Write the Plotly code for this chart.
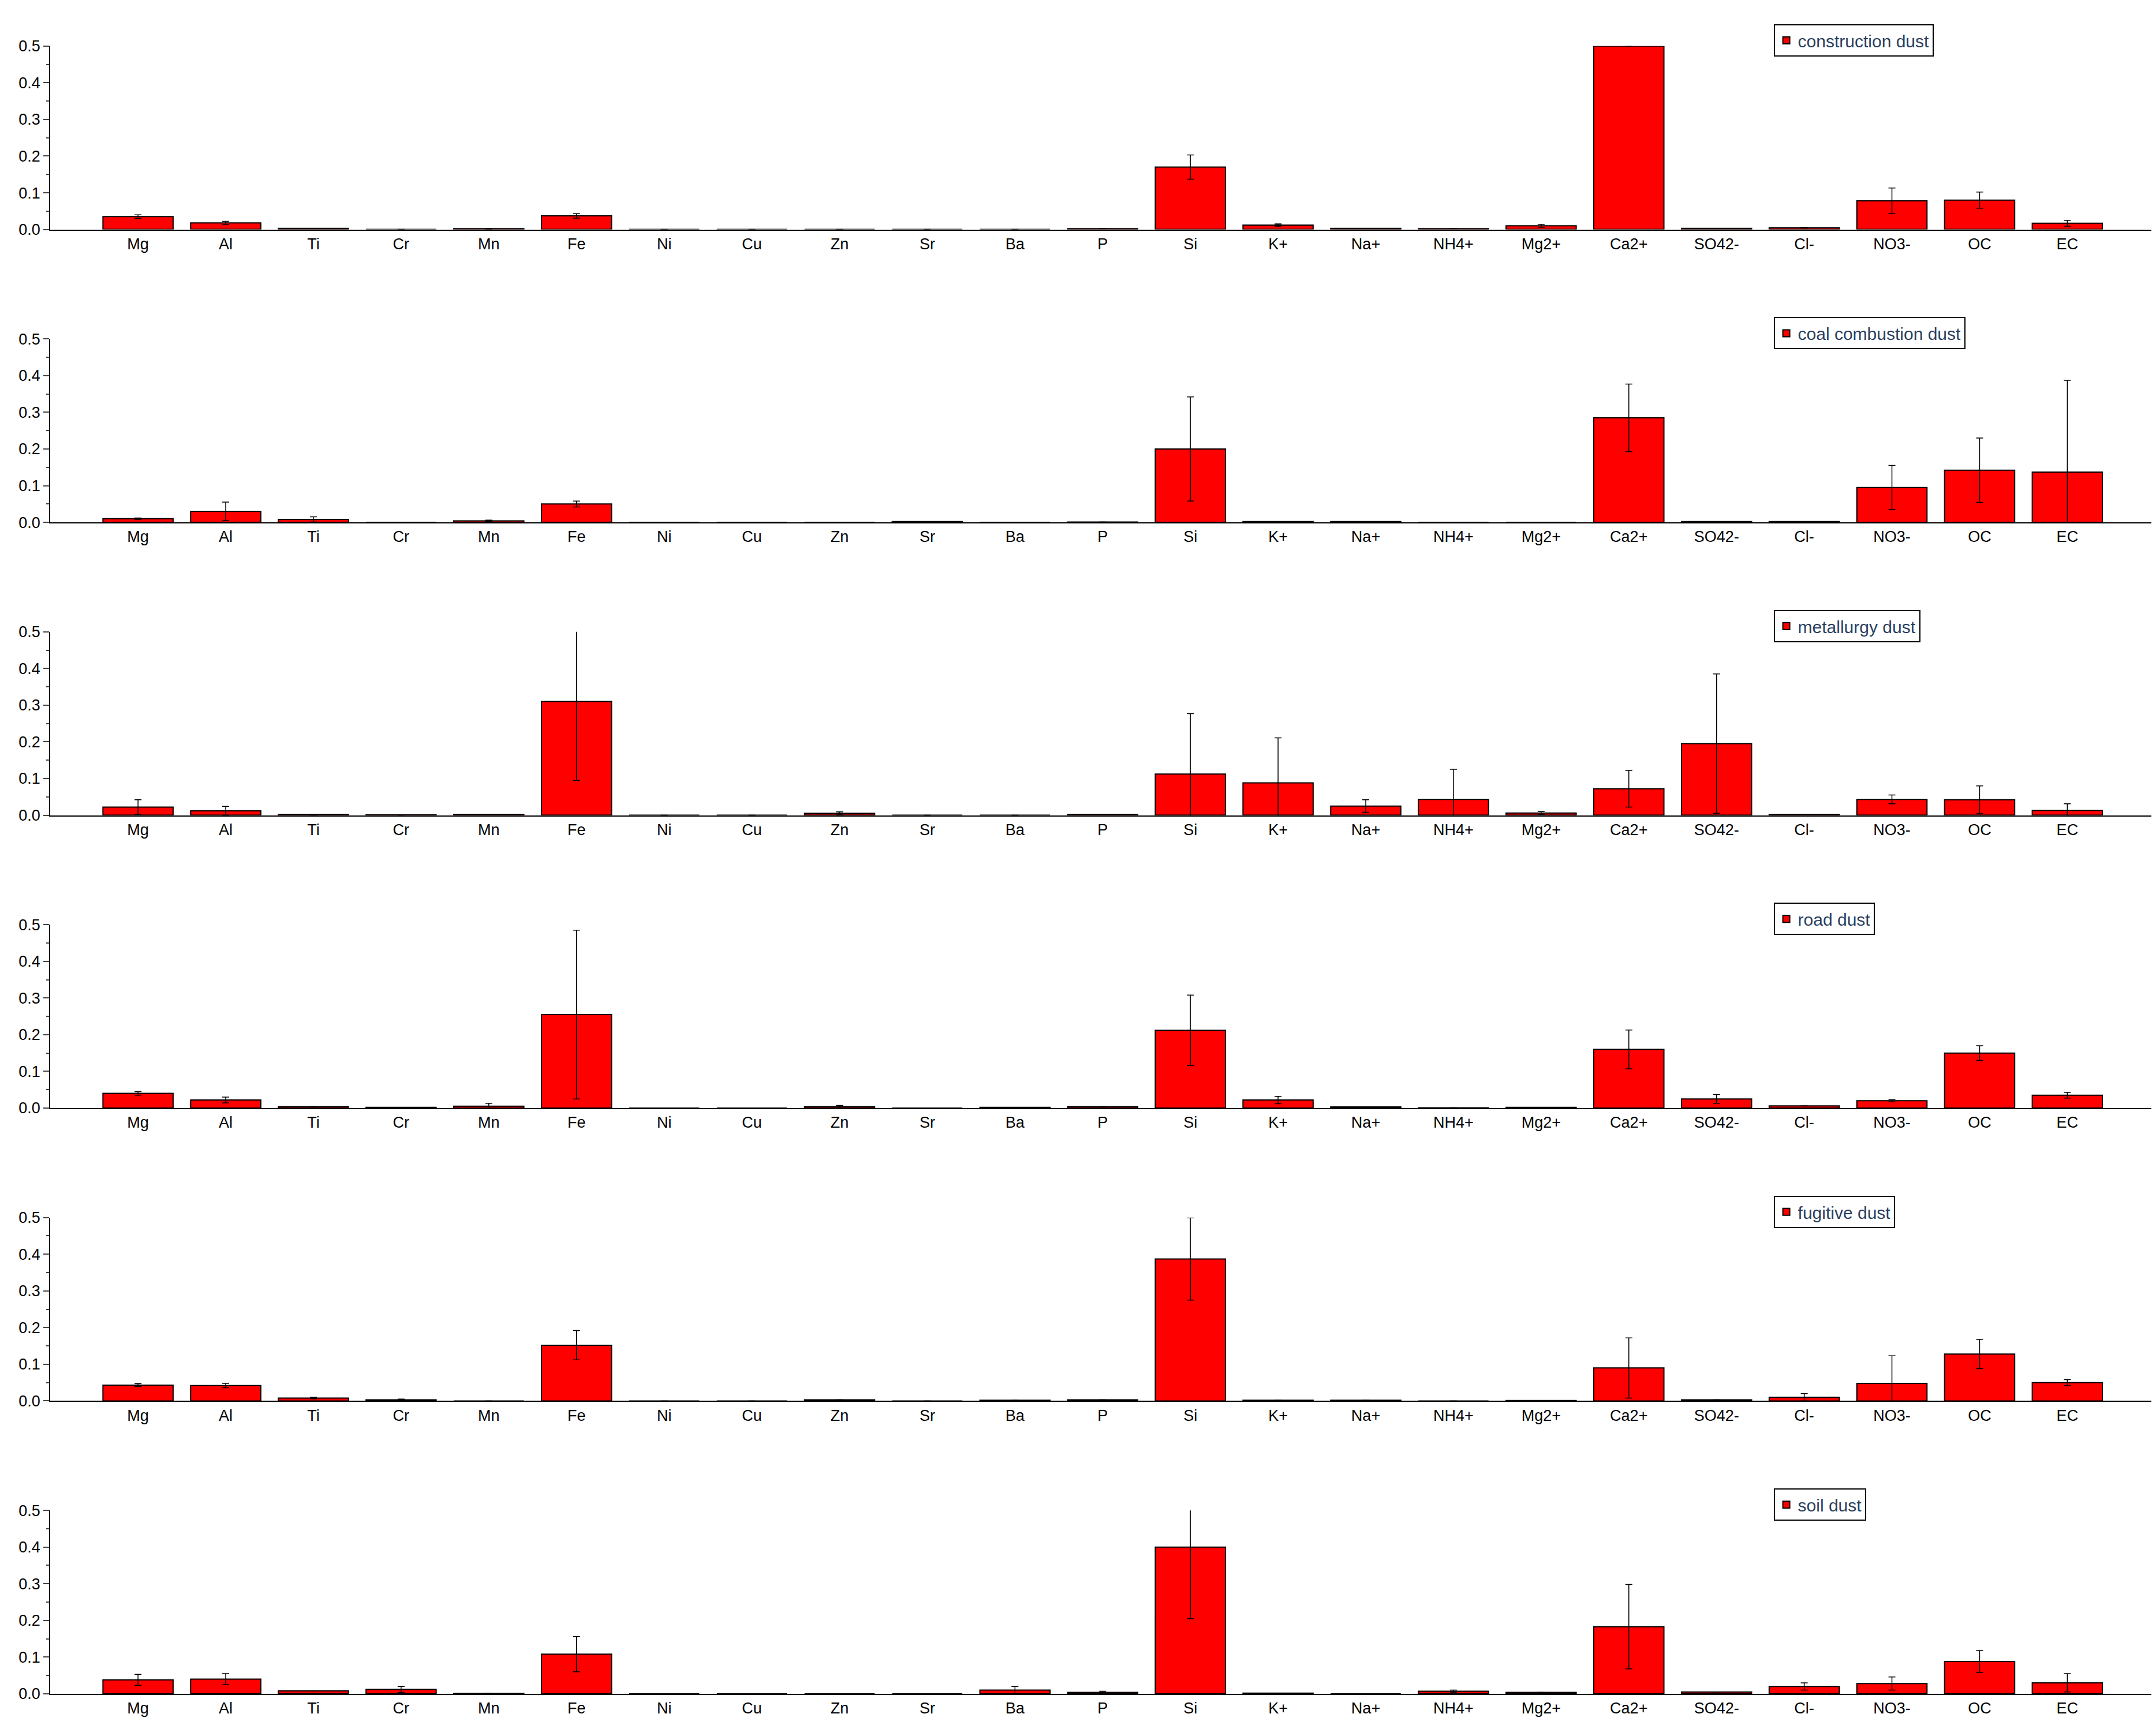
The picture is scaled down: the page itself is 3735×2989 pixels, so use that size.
import plotly.graph_objects as go

cats = ["Mg","Al","Ti","Cr","Mn","Fe","Ni","Cu","Zn","Sr","Ba","P","Si","K+","Na+","NH4+","Mg2+","Ca2+","SO42-","Cl-","NO3-","OC","EC"]
names = ["construction dust","coal combustion dust","metallurgy dust","road dust","fugitive dust","soil dust"]

construction = [.035,.018,.003,0,.002,.037,0,0,0,0,0,.002,.17,.012,.003,.002,.01,.5,.003,.005,.078,.08,.017]
construction_err = [.005,.004,0,0,.001,.006,0,0,0,0,0,0,.033,.003,0,0,.004,0,0,.001,.035,.022,.008]
coal = [.01,.03,.008,0,.004,.05,0,0,0,.002,0,.001,.2,.002,.002,0,0,.285,.002,.002,.095,.142,.137]
coal_err = [.002,.025,.007,0,.002,.008,0,0,0,0,0,0,.142,0,0,0,0,.092,0,0,.06,.088,.25]
metallurgy = [.022,.012,.002,.001,.002,.31,0,0,.005,0,0,.002,.112,.088,.025,.043,.006,.072,.195,.002,.043,.042,.013]
metallurgy_err = [.02,.012,.001,0,0,.215,0,0,.004,0,0,0,.165,.123,.017,.082,.004,.05,.19,0,.012,.038,.018]
road = [.04,.022,.004,.002,.005,.255,0,0,.004,0,.002,.004,.212,.022,.003,.001,.002,.16,.025,.006,.02,.15,.035]
road_err = [.005,.008,0,0,.008,.23,0,0,.003,0,0,0,.096,.01,0,0,0,.053,.012,0,.003,.02,.008]
fugitive = [.043,.042,.008,.003,0,.152,0,0,.003,0,.002,.003,.387,.002,.002,0,.001,.09,.003,.01,.048,.128,.05]
fugitive_err = [.004,.006,.002,.002,0,.04,0,0,0,0,0,0,.112,0,0,0,0,.082,0,.01,.075,.04,.008]
soil = [.038,.04,.008,.012,.001,.108,0,0,0,0,.01,.004,.4,.002,0,.007,.004,.183,.005,.02,.028,.088,.03]
soil_err = [.015,.015,0,.008,0,.048,0,0,0,0,.01,.003,.195,0,0,.003,0,.115,0,.01,.018,.03,.025]

series = [(construction,construction_err),(coal,coal_err),(metallurgy,metallurgy_err),
          (road,road_err),(fugitive,fugitive_err),(soil,soil_err)]

fig = go.Figure()
F = dict(family="Liberation Sans, Arial", size=27, color="black")
for k,(vals,errs) in enumerate(series):
    n = "" if k==0 else str(k+1)
    fig.add_trace(go.Bar(x=list(range(len(cats))), y=vals, name=names[k],
        marker=dict(color="#ff0000", line=dict(color="black", width=2)), width=0.8,
        error_y=dict(type="data", array=errs, color="black", thickness=1.5, width=6),
        xaxis="x"+n, yaxis="y"+n, legend="legend"+n, cliponaxis=True))
    top = 1-0.0192-0.1715*k
    bot = 1-0.1266-0.1715*k
    fig.layout["xaxis"+n] = dict(domain=[0.0212,0.9974], range=[-1,23], anchor="y"+n,
        tickmode="array", tickvals=list(range(len(cats))), ticktext=cats,
        showline=True, linecolor="black", linewidth=2, ticks="", showgrid=False,
        zeroline=False, tickfont=F)
    fig.layout["yaxis"+n] = dict(domain=[bot,top], range=[0,0.5], anchor="x"+n,
        dtick=0.1, tickformat=".1f", showline=True, linecolor="black", linewidth=2,
        ticks="outside", ticklen=10, tickwidth=2, showgrid=False, zeroline=False,
        minor=dict(dtick=0.05, ticks="outside", ticklen=5, tickwidth=2), tickfont=F)
    fig.layout["legend"+n] = dict(x=0.8205, y=1-8/1248-0.1715*k, xanchor="left", yanchor="top",
        bordercolor="black", borderwidth=2, bgcolor="white", font=dict(family="Liberation Sans, Arial", size=30),
        itemwidth=30)

fig.update_layout(width=3735, height=2989, margin=dict(l=0,r=0,t=0,b=0),
    plot_bgcolor="white", paper_bgcolor="white", showlegend=True, bargap=0.2)
fig.write_html("out.html")
